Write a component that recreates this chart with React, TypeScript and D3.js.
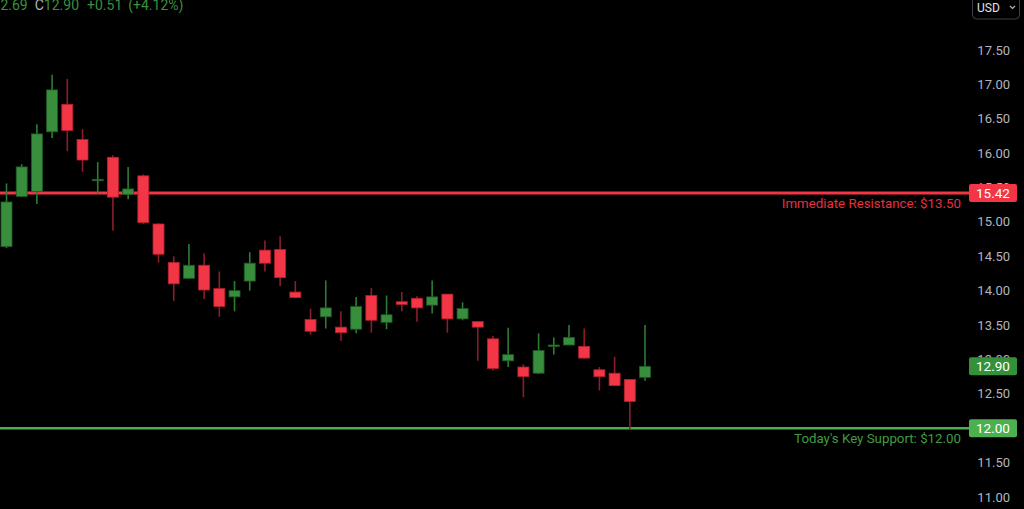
import React, { useEffect, useRef } from 'react';
import * as d3 from 'd3';

// OHLC values (oldest -> newest)
const opens = [
  14.64, 15.37, 15.44, 16.31, 16.71, 16.2, 15.61, 15.94, 15.4, 15.67, 14.97,
  14.41, 14.18, 14.37, 14.03, 13.91, 14.14, 14.59, 14.6, 13.98, 13.58, 13.62,
  13.47, 13.44, 13.93, 13.54, 13.84, 13.89, 13.79, 13.95, 13.59, 13.55, 13.3,
  12.98, 12.89, 12.8, 13.2, 13.21, 13.19, 12.85, 12.8, 12.71, 12.74,
];
const highs = [
  15.56, 15.84, 16.42, 17.14, 17.08, 16.35, 15.87, 15.97, 15.8, 15.69, 14.98,
  14.5, 14.68, 14.54, 14.28, 14.14, 14.56, 14.73, 14.79, 14.14, 13.74, 14.15,
  13.7, 13.91, 14.04, 13.93, 13.98, 13.92, 14.15, 13.95, 13.83, 13.55, 13.34,
  13.46, 12.93, 13.38, 13.32, 13.5, 13.45, 12.89, 13.04, 12.71, 13.5,
];
const lows = [
  14.62, 15.36, 15.26, 16.22, 16.03, 15.73, 15.41, 14.87, 15.33, 14.97, 14.41,
  13.85, 14.17, 13.88, 13.62, 13.7, 14.0, 14.28, 14.07, 13.89, 13.36, 13.45,
  13.27, 13.38, 13.39, 13.44, 13.7, 13.55, 13.67, 13.39, 13.57, 12.98, 12.84,
  12.89, 12.45, 12.79, 13.07, 13.21, 13.01, 12.55, 12.62, 11.98, 12.69,
];
const closes = [
  15.29, 15.8, 16.28, 16.92, 16.33, 15.9, 15.62, 15.36, 15.48, 14.99, 14.53,
  14.1, 14.37, 14.01, 13.77, 14.0, 14.4, 14.4, 14.19, 13.9, 13.41, 13.75,
  13.39, 13.77, 13.57, 13.65, 13.8, 13.75, 13.91, 13.59, 13.74, 13.47, 12.87,
  13.07, 12.75, 13.13, 13.21, 13.32, 13.02, 12.75, 12.62, 12.39, 12.9,
];

const priceTicks = [11, 11.5, 12, 12.5, 13, 13.5, 14, 14.5, 15, 15.5, 16, 16.5, 17, 17.5];

const resistanceLevel = 15.42;
const resistanceTag = '15.42';
const resistanceLabel = 'Immediate Resistance: $13.50';
const supportLevel = 12.0;
const supportTag = '12.00';
const supportLabel = "Today's Key Support: $12.00";
const lastPrice = 12.9;
const lastTag = '12.90';

const W = 1024;
const H = 509;
const FONT = 'Roboto, "Noto Sans", sans-serif';

const UP = '#388e3c';
const UP_EDGE = '#1e5a24';
const UP_WICK = '#2e7d32';
const DOWN = '#f23645';
const DOWN_EDGE = '#b3202f';
const DOWN_WICK = '#8c1d2b';

const App: React.FC = () => {
  const svgRef = useRef<SVGSVGElement>(null);

  useEffect(() => {
    if (!svgRef.current) return;
    const svg = d3.select(svgRef.current);
    svg.selectAll('*').remove();

    svg.append('rect').attr('width', W).attr('height', H).attr('fill', '#000');

    const candles = opens.map((o, i) => ({
      i,
      o,
      h: highs[i],
      l: lows[i],
      c: closes[i],
    }));

    const x = d3.scaleLinear().domain([0, candles.length - 1]).range([6.5, 645]);
    const y = d3.scaleLinear().domain([11, 17.5]).range([497, 50]);
    const bodyW = 11;

    // price axis labels
    svg.append('g')
      .selectAll('text')
      .data(priceTicks)
      .enter()
      .append('text')
      .attr('x', 1010)
      .attr('y', d => y(d))
      .attr('dy', '0.35em')
      .attr('text-anchor', 'end')
      .style('font-family', FONT)
      .style('font-size', '13px')
      .style('fill', '#b2b5be')
      .text(d => d.toFixed(2));

    // level lines
    svg.append('line')
      .attr('x1', 0).attr('x2', 969)
      .attr('y1', y(resistanceLevel)).attr('y2', y(resistanceLevel))
      .attr('stroke', DOWN).attr('stroke-width', 3);

    svg.append('line')
      .attr('x1', 0).attr('x2', 969)
      .attr('y1', y(supportLevel)).attr('y2', y(supportLevel))
      .attr('stroke', '#4caf50').attr('stroke-width', 2.5);

    svg.append('text')
      .attr('x', 961)
      .attr('y', y(resistanceLevel) + 15)
      .attr('text-anchor', 'end')
      .style('font-family', FONT)
      .style('font-size', '13.3px')
      .style('fill', '#e5313f')
      .text(resistanceLabel);

    svg.append('text')
      .attr('x', 961)
      .attr('y', y(supportLevel) + 14.5)
      .attr('text-anchor', 'end')
      .style('font-family', FONT)
      .style('font-size', '13.3px')
      .style('fill', '#3f9c43')
      .text(supportLabel);

    // candles
    const g = svg.append('g');
    const cg = g.selectAll('g.candle')
      .data(candles)
      .enter()
      .append('g')
      .attr('class', 'candle');

    cg.append('line')
      .attr('x1', d => x(d.i))
      .attr('x2', d => x(d.i))
      .attr('y1', d => y(d.h))
      .attr('y2', d => y(d.l))
      .attr('stroke', d => (d.c >= d.o ? UP_WICK : DOWN_WICK))
      .attr('stroke-width', 1.6);

    cg.append('rect')
      .attr('x', d => x(d.i) - bodyW / 2)
      .attr('width', bodyW)
      .attr('y', d => y(Math.max(d.o, d.c)))
      .attr('height', d => Math.max(1.5, Math.abs(y(d.o) - y(d.c))))
      .attr('fill', d => (d.c >= d.o ? UP : DOWN))
      .attr('stroke', d => (d.c >= d.o ? UP_EDGE : DOWN_EDGE))
      .attr('stroke-width', 0.8);

    // price tags on the axis
    const tags = [
      { v: resistanceLevel, t: resistanceTag, fill: DOWN },
      { v: lastPrice, t: lastTag, fill: '#35903a' },
      { v: supportLevel, t: supportTag, fill: '#4caf50' },
    ];
    const tg = svg.append('g')
      .selectAll('g')
      .data(tags)
      .enter()
      .append('g');
    tg.append('rect')
      .attr('x', 969)
      .attr('y', d => y(d.v) - 9)
      .attr('width', 48)
      .attr('height', 18)
      .attr('rx', 2)
      .attr('fill', d => d.fill);
    tg.append('text')
      .attr('x', 993)
      .attr('y', d => y(d.v))
      .attr('dy', '0.36em')
      .attr('text-anchor', 'middle')
      .style('font-family', FONT)
      .style('font-size', '13.5px')
      .style('fill', '#fff')
      .text(d => d.t);

    // currency button
    svg.append('rect')
      .attr('x', 972.5)
      .attr('y', -5)
      .attr('width', 47)
      .attr('height', 24)
      .attr('rx', 4)
      .attr('fill', '#000')
      .attr('stroke', '#3a3e48')
      .attr('stroke-width', 1);
    svg.append('text')
      .attr('x', 977)
      .attr('y', 12)
      .style('font-family', FONT)
      .style('font-size', '12px')
      .style('fill', '#e0e3eb')
      .text('USD');
    svg.append('path')
      .attr('d', 'M1010,6 L1012.5,8.5 L1015,6')
      .attr('fill', 'none')
      .attr('stroke', '#b2b5be')
      .attr('stroke-width', 1.2);

    // legend header (partly cut at the left edge)
    const header = svg.append('text')
      .attr('x', -15)
      .attr('y', 10)
      .style('font-family', FONT)
      .style('font-size', '14px');
    header.append('tspan').style('fill', '#b2b5be').text('L');
    header.append('tspan').style('fill', '#3a8f3e').text('12.69');
    header.append('tspan').attr('dx', 7).style('fill', '#b2b5be').text('C');
    header.append('tspan').style('fill', '#3a8f3e').text('12.90');
    header.append('tspan').attr('dx', 8).style('fill', '#3a8f3e').text('+0.51');
    header.append('tspan').attr('dx', 6).style('fill', '#3a8f3e').text('(+4.12%)');
  }, []);

  return (
    <div style={{ width: W, height: H, background: '#000' }}>
      <style>{'body{margin:0;background:#000;}'}</style>
      <svg ref={svgRef} width={W} height={H} style={{ display: 'block' }} />
    </div>
  );
};

export default App;
